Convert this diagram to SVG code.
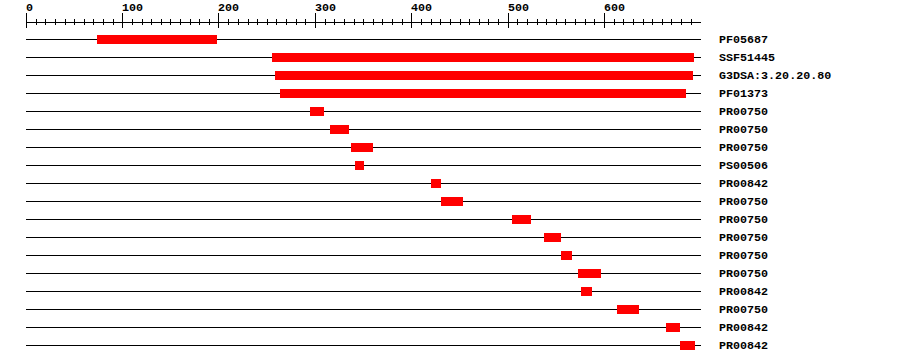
<svg xmlns="http://www.w3.org/2000/svg" width="900" height="364" viewBox="0 0 900 364">
<style>
.ax{stroke:#000;stroke-width:1;fill:none;shape-rendering:crispEdges}
.ln{stroke:#000;stroke-width:1;shape-rendering:crispEdges}
.bar{fill:#ff0000;shape-rendering:crispEdges}
.t{font-family:"Liberation Mono","DejaVu Sans Mono",monospace;font-weight:bold;font-size:11.7px;fill:#000}
</style>
<rect width="900" height="364" fill="#fff"/>
<g id="axis">
<path class="ax" d="M26 22.5H701"/>
<path class="ax" d="M26.5 13V28M122.5 13V28M218.5 13V28M315.5 13V28M411.5 13V28M508.5 13V28M604.5 13V28"/>
<path class="ax" d="M36.5 19V25M45.5 19V25M55.5 19V25M65.5 19V25M74.5 19V25M84.5 19V25M93.5 19V25M103.5 19V25M113.5 19V25M132.5 19V25M142.5 19V25M151.5 19V25M161.5 19V25M170.5 19V25M180.5 19V25M190.5 19V25M199.5 19V25M209.5 19V25M228.5 19V25M238.5 19V25M248.5 19V25M257.5 19V25M267.5 19V25M276.5 19V25M286.5 19V25M296.5 19V25M305.5 19V25M325.5 19V25M334.5 19V25M344.5 19V25M354.5 19V25M363.5 19V25M373.5 19V25M382.5 19V25M392.5 19V25M402.5 19V25M421.5 19V25M431.5 19V25M440.5 19V25M450.5 19V25M460.5 19V25M469.5 19V25M479.5 19V25M488.5 19V25M498.5 19V25M517.5 19V25M527.5 19V25M537.5 19V25M546.5 19V25M556.5 19V25M565.5 19V25M575.5 19V25M585.5 19V25M594.5 19V25M614.5 19V25M623.5 19V25M633.5 19V25M643.5 19V25M652.5 19V25M662.5 19V25M671.5 19V25M681.5 19V25M691.5 19V25"/>
<text class="t" x="26" y="11">0</text>
<text class="t" x="122" y="11">100</text>
<text class="t" x="218" y="11">200</text>
<text class="t" x="315" y="11">300</text>
<text class="t" x="411" y="11">400</text>
<text class="t" x="508" y="11">500</text>
<text class="t" x="604" y="11">600</text>
</g>
<g id="connectors">
<path class="ln" d="M26 39.5H701M26 57.5H701M26 75.5H701M26 93.5H701M26 111.5H701M26 129.5H701M26 147.5H701M26 165.5H701M26 183.5H701M26 201.5H701M26 219.5H701M26 237.5H701M26 255.5H701M26 273.5H701M26 291.5H701M26 309.5H701M26 327.5H701M26 345.5H701"/>
</g>
<g id="row1"><rect class="bar" x="97" y="35" width="120" height="9"/><text class="t" x="719" y="43">PF05687</text></g>
<g id="row2"><rect class="bar" x="272" y="53" width="422" height="9"/><text class="t" x="719" y="61">SSF51445</text></g>
<g id="row3"><rect class="bar" x="275" y="71" width="418" height="9"/><text class="t" x="719" y="79">G3DSA:3.20.20.80</text></g>
<g id="row4"><rect class="bar" x="280" y="89" width="406" height="9"/><text class="t" x="719" y="97">PF01373</text></g>
<g id="row5"><rect class="bar" x="310" y="107" width="14" height="9"/><text class="t" x="719" y="115">PR00750</text></g>
<g id="row6"><rect class="bar" x="330" y="125" width="19" height="9"/><text class="t" x="719" y="133">PR00750</text></g>
<g id="row7"><rect class="bar" x="351" y="143" width="22" height="9"/><text class="t" x="719" y="151">PR00750</text></g>
<g id="row8"><rect class="bar" x="355" y="161" width="9" height="9"/><text class="t" x="719" y="169">PS00506</text></g>
<g id="row9"><rect class="bar" x="431" y="179" width="10" height="9"/><text class="t" x="719" y="187">PR00842</text></g>
<g id="row10"><rect class="bar" x="441" y="197" width="22" height="9"/><text class="t" x="719" y="205">PR00750</text></g>
<g id="row11"><rect class="bar" x="512" y="215" width="19" height="9"/><text class="t" x="719" y="223">PR00750</text></g>
<g id="row12"><rect class="bar" x="544" y="233" width="17" height="9"/><text class="t" x="719" y="241">PR00750</text></g>
<g id="row13"><rect class="bar" x="561" y="251" width="11" height="9"/><text class="t" x="719" y="259">PR00750</text></g>
<g id="row14"><rect class="bar" x="578" y="269" width="23" height="9"/><text class="t" x="719" y="277">PR00750</text></g>
<g id="row15"><rect class="bar" x="581" y="287" width="11" height="9"/><text class="t" x="719" y="295">PR00842</text></g>
<g id="row16"><rect class="bar" x="617" y="305" width="22" height="9"/><text class="t" x="719" y="313">PR00750</text></g>
<g id="row17"><rect class="bar" x="666" y="323" width="14" height="9"/><text class="t" x="719" y="331">PR00842</text></g>
<g id="row18"><rect class="bar" x="680" y="341" width="15" height="9"/><text class="t" x="719" y="349">PR00842</text></g>
</svg>
